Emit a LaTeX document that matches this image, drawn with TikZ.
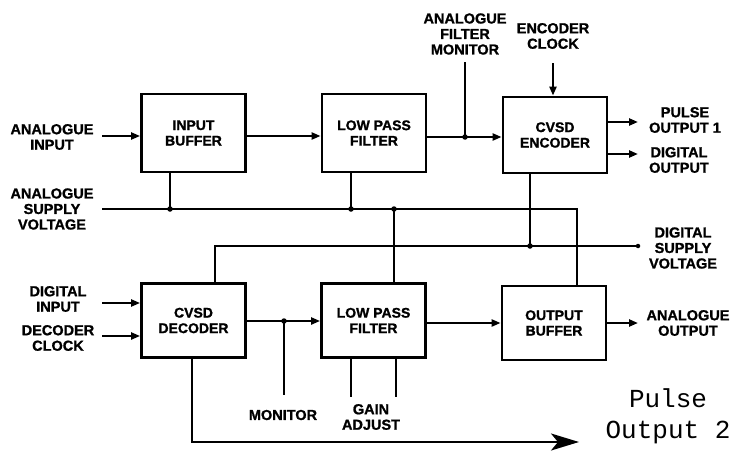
\documentclass[tikz,border=0pt]{standalone}
\usepackage{fontspec}
\setmainfont{Liberation Sans}[BoldFeatures={FakeBold=1.2}]
\newfontfamily\typew{Liberation Mono}
\usetikzlibrary{arrows.meta}
\begin{document}
\begin{tikzpicture}[x=1pt,y=-1pt,
  blk/.style={draw,line width=2.8pt,minimum width=104pt,minimum height=76pt,inner sep=0pt,
    align=center,font=\fontsize{14}{15.5}\selectfont\bfseries},
  lbl/.style={align=center,inner sep=0pt,font=\fontsize{14.5}{15.5}\selectfont\bfseries},
  ln/.style={line width=2.2pt},
  sup/.style={line width=2.7pt},
  arr/.style={ln,-{Triangle[length=9pt,width=7pt]}},
  jdot/.style={circle,fill,inner sep=0pt,minimum size=5.5pt}]
\useasboundingbox (0,0) rectangle (754,463);

% blocks
\node[blk,minimum height=78pt] (ib)   at (193.5,133) {INPUT\\BUFFER};
\node[blk,minimum height=78pt] (lpfa) at (374,133) {LOW PASS\\FILTER};
\node[blk] (enc)  at (555,135) {CVSD\\ENCODER};
\node[blk,minimum height=74pt] (dec)  at (193.5,320.5) {CVSD\\DECODER};
\node[blk,minimum height=74pt] (lpfb) at (373.5,320.5) {LOW PASS\\FILTER};
\node[blk,minimum height=74pt] (ob)   at (554,323) {OUTPUT\\BUFFER};

% labels
\node[lbl] (lai)  at (52,137) {ANALOGUE\\INPUT};
\node[lbl] (las)  at (52,209) {ANALOGUE\\SUPPLY\\VOLTAGE};
\node[lbl] (lafm) at (465,34) {ANALOGUE\\FILTER\\MONITOR};
\node[lbl] (lec)  at (553,36) {ENCODER\\CLOCK};
\node[lbl] (lpo)  at (685,120) {PULSE\\OUTPUT 1};
\node[lbl] (ldo)  at (679,160) {DIGITAL\\OUTPUT};
\node[lbl] (lds)  at (683,248) {DIGITAL\\SUPPLY\\VOLTAGE};
\node[lbl] (ldi)  at (58,299) {DIGITAL\\INPUT};
\node[lbl] (ldc)  at (58,338) {DECODER\\CLOCK};
\node[lbl] (lao)  at (688,323) {ANALOGUE\\OUTPUT};
\node[lbl] (lmon) at (283,415) {MONITOR};
\node[lbl] (lga)  at (371,417) {GAIN\\ADJUST};
\node[align=center,inner sep=0pt,font=\typew\fontsize{26}{31}\selectfont] (lpo2) at (668,416) {Pulse\\Output 2};

% coordinates
\coordinate (ai)  at (102,136);
\coordinate (mon) at (465,137);
\coordinate (mtop) at (465,62);
\coordinate (ect) at (553,63);
\coordinate (po1) at (638,122);
\coordinate (do1) at (638,154);
\coordinate (as0) at (102,209);
\coordinate (as1) at (577,209);
\coordinate (j1) at (170,209);
\coordinate (j2) at (351,209);
\coordinate (j3) at (394,209);
\coordinate (ds0) at (215,246);
\coordinate (ds1) at (638,246);
\coordinate (j4) at (530,246);
\coordinate (di) at (102,303);
\coordinate (dc) at (102,336);
\coordinate (j5) at (284,321);
\coordinate (mbot) at (284,395);
\coordinate (ga1) at (351,397);
\coordinate (ga2) at (396,397);
\coordinate (ao) at (638,323);
\coordinate (p2a) at (192,442);
\coordinate (p2b) at (579,442);

% top row signal path
\draw[arr] (ai) -- (ai -| ib.west);
\draw[arr] (ib.east |- ai) -- (lpfa.west |- ai);
\draw[arr] (lpfa.east |- mon) -- (enc.west |- mon);
\draw[ln] (mtop) -- (mon);
\node[jdot] at (mon) {};
\draw[arr] (ect) -- (ect |- enc.north);
\draw[arr] (enc.east |- po1) -- (po1);
\draw[arr] (enc.east |- do1) -- (do1);

% analogue supply
\draw[sup] (as0) -- (as1) -- (as1 |- ob.north);
\draw[sup] (j1) -- (j1 |- ib.south);
\draw[sup] (j2) -- (j2 |- lpfa.south);
\draw[sup] (j3) -- (j3 |- lpfb.north);
\foreach \j in {j1,j2,j3} \node[jdot] at (\j) {};

% digital supply
\draw[sup] (ds0 |- dec.north) -- (ds0) -- (ds1);
\node[circle,fill,inner sep=0pt,minimum size=4.5pt] at (ds1) {};
\draw[sup] (j4) -- (j4 |- enc.south);
\node[jdot] at (j4) {};

% bottom row
\draw[arr] (di) -- (di -| dec.west);
\draw[arr] (dc) -- (dc -| dec.west);
\draw[arr] (dec.east |- j5) -- (lpfb.west |- j5);
\draw[sup] (j5) -- (mbot);
\node[jdot] at (j5) {};
\draw[sup] (ga1 |- lpfb.south) -- (ga1);
\draw[sup] (ga2 |- lpfb.south) -- (ga2);
\draw[arr] (lpfb.east |- ob.west) -- (ob.west);
\draw[arr] (ob.east) -- (ao);
\draw[ln,-{Stealth[length=28pt,width=17pt,inset=7pt]}] (p2a |- dec.south) -- (p2a) -- (p2b);
\end{tikzpicture}
\end{document}
